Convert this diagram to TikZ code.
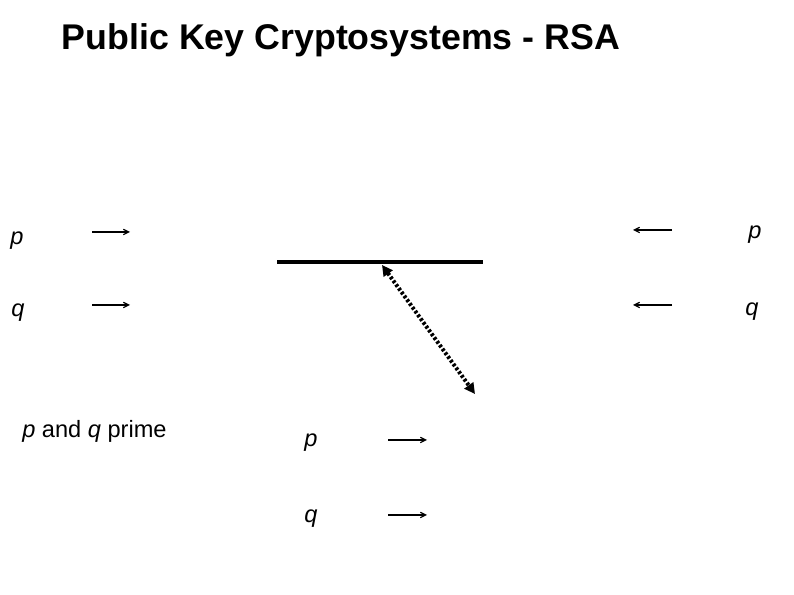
\documentclass[tikz,border=0pt]{standalone}
\usepackage{fontspec}
\setmainfont{Liberation Sans}
\usetikzlibrary{arrows.meta}
\tikzset{
  lbl/.style={inner sep=0pt, font=\fontsize{17.7}{21}\selectfont\itshape},
  arr/.style={-{Straight Barb[length=4pt,width=4pt]}, line width=0.9pt}
}
\begin{document}
\begin{tikzpicture}[x=0.75pt,y=-0.75pt]
  \useasboundingbox (0,0) rectangle (794,595);
  \node (title) at (341,40) {\fontsize{26.8}{30}\selectfont\bfseries Public Key Cryptosystems - RSA};
  % left inputs
  \node [lbl] (pl) at (17,241) {p};
  \node [lbl] (ql) at (18,313) {q};
  \coordinate (pla) at (92,232); \coordinate (plb) at (130,232);
  \coordinate (qla) at (92,305); \coordinate (qlb) at (130,305);
  \draw [arr] (pla) -- (plb);
  \draw [arr] (qla) -- (qlb);
  \node [lbl, anchor=west] (prime) at (22,431) {p \upshape and \itshape q \upshape prime};
  % right inputs
  \node [lbl] (pr) at (755,235) {p};
  \node [lbl] (qr) at (752,312) {q};
  \coordinate (pra) at (672,230); \coordinate (prb) at (633,230);
  \coordinate (qra) at (672,305); \coordinate (qrb) at (633,305);
  \draw [arr] (pra) -- (prb);
  \draw [arr] (qra) -- (qrb);
  % bar and dotted link
  \coordinate (bara) at (277,262); \coordinate (barb) at (483,262);
  \draw [line width=3pt] (bara) -- (barb);
  \coordinate (da) at (382,265); \coordinate (db) at (475,394);
  \draw [{Triangle[length=8pt,width=8pt]}-{Triangle[length=8pt,width=8pt]}, line width=3pt, dash pattern=on 2pt off 1.5pt] (da) -- (db);
  % bottom
  \node [lbl] (pb) at (311,443) {p};
  \node [lbl] (qb) at (311,519) {q};
  \coordinate (pba) at (388,440); \coordinate (pbb) at (427,440);
  \coordinate (qba) at (388,515); \coordinate (qbb) at (427,515);
  \draw [arr] (pba) -- (pbb);
  \draw [arr] (qba) -- (qbb);
\end{tikzpicture}
\end{document}
